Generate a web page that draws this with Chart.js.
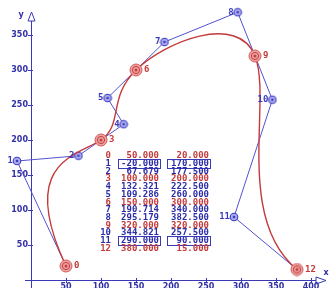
<!DOCTYPE html>
<html>
<head>
<meta charset="utf-8">
<script src="https://cdn.jsdelivr.net/npm/chart.js@4.4.1/dist/chart.umd.min.js"></script>
<style>
    body { margin: 0; background: #ffffff; }
    #box { width: 335px; height: 288px; }
</style>
</head>
<body>
<div id="box"><canvas id="grafico" width="335" height="288"></canvas></div>
<script>
// control polygon, points 0,3,6,9,12 lie on the curve
var puntiX = [50, -20, 67.679, 100, 132.321, 109.286, 150, 190.714, 295.179, 320, 344.821, 290, 380];
var puntiY = [20, 170, 177.5, 200, 222.5, 260, 300, 340, 382.5, 320, 257.5, 90, 15];
var nomiPunti = ['0', '1', '2', '3', '4', '5', '6', '7', '8', '9', '10', '11', '12'];
var tickX = [50, 100, 150, 200, 250, 300, 350, 400];
var tickY = [50, 100, 150, 200, 250, 300, 350];
var righeEvidenziate = [1, 11];

var BLU = '#3a3ab8';
var ROSSO = '#c43a3a';

// --------------- markers ---------------------
var markerRosso = document.createElement('canvas');
markerRosso.width = 14; markerRosso.height = 14;
var c = markerRosso.getContext('2d');
c.beginPath(); c.arc(7, 7, 6, 0, 2 * Math.PI);
c.fillStyle = '#eba3a3'; c.fill();
c.strokeStyle = '#d45a5a'; c.lineWidth = 1; c.stroke();
c.beginPath(); c.arc(7, 7, 3.6, 0, 2 * Math.PI);
c.strokeStyle = '#c83c3c'; c.stroke();
c.beginPath(); c.arc(7, 7, 1.5, 0, 2 * Math.PI);
c.fillStyle = '#c83c3c'; c.fill();

var markerBlu = document.createElement('canvas');
markerBlu.width = 10; markerBlu.height = 10;
c = markerBlu.getContext('2d');
c.beginPath(); c.arc(5, 5, 3.8, 0, 2 * Math.PI);
c.fillStyle = '#aaaaee'; c.fill();
c.strokeStyle = '#3c3cc0'; c.lineWidth = 1.1; c.stroke();
c.beginPath(); c.arc(5, 5, 1.3, 0, 2 * Math.PI);
c.fillStyle = '#3c3cc0'; c.fill();

// --------------- data ---------------------
var poligono = [];
var curva = [];
for (var i = 0; i < puntiX.length; i++) {
    poligono.push({x: puntiX[i], y: puntiY[i]});
    if (i % 3 === 0) {
        curva.push({x: puntiX[i], y: puntiY[i]});
    }
}

// cubic bezier: use polygon points as control points of the line element
var pluginBezier = {
    id: 'bezier',
    beforeDatasetsDraw: function(chart) {
        var sx = chart.scales.x, sy = chart.scales.y;
        var meta = chart.getDatasetMeta(0);
        var pts = meta.data;
        for (var k = 0; k < pts.length; k++) {
            var j = k * 3;
            if (j - 1 >= 0) {
                pts[k].cp1x = sx.getPixelForValue(puntiX[j - 1]);
                pts[k].cp1y = sy.getPixelForValue(puntiY[j - 1]);
            }
            if (j + 1 < puntiX.length) {
                pts[k].cp2x = sx.getPixelForValue(puntiX[j + 1]);
                pts[k].cp2y = sy.getPixelForValue(puntiY[j + 1]);
            }
        }
        meta.dataset._pointsUpdated = true;
        meta.dataset._path = undefined;

        // axis lines, ticks, arrows
        var ctx = chart.ctx;
        var ox = sx.getPixelForValue(0), oy = sy.getPixelForValue(0);
        ctx.save();
        ctx.strokeStyle = BLU;
        ctx.lineWidth = 1;
        ctx.beginPath();
        ctx.moveTo(25, oy + 0.5); ctx.lineTo(316, oy + 0.5);
        ctx.moveTo(ox + 0.5, 288); ctx.lineTo(ox + 0.5, 21);
        tickX.forEach(function(v) {
            var px = Math.round(sx.getPixelForValue(v)) + 0.5;
            ctx.moveTo(px, oy - 2); ctx.lineTo(px, oy + 3);
        });
        tickY.forEach(function(v) {
            var py = Math.round(sy.getPixelForValue(v)) + 0.5;
            ctx.moveTo(ox - 3, py); ctx.lineTo(ox + 2, py);
        });
        ctx.stroke();
        ctx.fillStyle = '#ffffff';
        ctx.beginPath();
        ctx.moveTo(ox + 0.5, 12); ctx.lineTo(ox + 4, 21); ctx.lineTo(ox - 3, 21); ctx.closePath();
        ctx.fill(); ctx.stroke();
        ctx.beginPath();
        ctx.moveTo(326, oy + 0.5); ctx.lineTo(316, oy - 3); ctx.lineTo(316, oy + 4); ctx.closePath();
        ctx.fill(); ctx.stroke();

        // tick labels
        ctx.fillStyle = '#3030a8';
        ctx.font = 'bold 8px "DejaVu Sans"';
        ctx.textAlign = 'center';
        ctx.textBaseline = 'top';
        tickX.forEach(function(v) {
            ctx.fillText(String(v), sx.getPixelForValue(v), oy + 3);
        });
        ctx.textAlign = 'right';
        ctx.textBaseline = 'middle';
        tickY.forEach(function(v) {
            ctx.fillText(String(v), ox - 3, sy.getPixelForValue(v));
        });
        ctx.textAlign = 'center';
        ctx.fillText('y', 21, 15);
        ctx.fillText('x', 326, 273);
        ctx.restore();
    }
};

// point labels and the table of coordinates
var pluginTesti = {
    id: 'testi',
    afterDatasetsDraw: function(chart) {
        var ctx = chart.ctx;
        var pts = chart.getDatasetMeta(1).data;
        ctx.save();
        ctx.font = 'bold 9px "DejaVu Sans Mono"';
        ctx.textBaseline = 'middle';
        for (var i = 0; i < pts.length; i++) {
            if (i % 3 === 0) {
                ctx.fillStyle = ROSSO;
                ctx.textAlign = 'left';
                ctx.fillText(nomiPunti[i], pts[i].x + 8, pts[i].y);
            } else {
                ctx.fillStyle = BLU;
                ctx.textAlign = 'right';
                ctx.fillText(nomiPunti[i], pts[i].x - 4, pts[i].y);
            }
        }

        // table
        ctx.textAlign = 'right';
        for (var r = 0; r < puntiX.length; r++) {
            var yc = 156 + r * 7.7;
            ctx.fillStyle = (r % 3 === 0) ? ROSSO : '#2c2ca8';
            ctx.fillText(nomiPunti[r], 111, yc);
            ctx.fillText(puntiX[r].toFixed(3), 159, yc);
            ctx.fillText(puntiY[r].toFixed(3), 209, yc);
            if (righeEvidenziate.indexOf(r) >= 0) {
                ctx.strokeStyle = BLU;
                ctx.lineWidth = 1;
                var top = Math.round(yc - 4.5) + 0.5;
                ctx.strokeRect(118.5, top, 42, 9);
                ctx.strokeRect(167.5, top, 43, 9);
            }
        }
        ctx.restore();
    }
};

var grafico = new Chart(document.getElementById('grafico'), {
    type: 'line',
    data: {
        datasets: [{
            data: curva,
            borderColor: ROSSO,
            borderWidth: 1.4,
            tension: 0.4,
            fill: false,
            clip: false,
            pointStyle: markerRosso,
            pointRadius: 6
        }, {
            data: poligono,
            borderColor: '#5252d0',
            borderWidth: 1,
            tension: 0,
            fill: false,
            clip: false,
            pointStyle: markerBlu,
            pointRadius: function(ctx) { return ctx.dataIndex % 3 === 0 ? 0 : 4; }
        }]
    },
    options: {
        responsive: false,
        animation: false,
        events: [],
        devicePixelRatio: 1,
        layout: { padding: 0, autoPadding: false },
        plugins: {
            legend: { display: false },
            tooltip: { enabled: false }
        },
        scales: {
            x: {
                type: 'linear',
                min: -31 / 0.7,
                max: (335 - 31) / 0.7,
                position: { y: 0 },
                afterFit: function(s) { s.height = 0; s.paddingLeft = 0; s.paddingRight = 0; s.paddingTop = 0; s.paddingBottom = 0; },
                afterBuildTicks: function(s) { s.ticks = tickX.map(function(v) { return {value: v}; }); },
                grid: { drawOnChartArea: false, drawTicks: false },
                border: { display: false },
                ticks: { display: false }
            },
            y: {
                type: 'linear',
                min: -8 / 0.7,
                max: 280 / 0.7,
                position: { x: 0 },
                afterFit: function(s) { s.width = 0; s.paddingLeft = 0; s.paddingRight = 0; s.paddingTop = 0; s.paddingBottom = 0; },
                afterBuildTicks: function(s) { s.ticks = tickY.map(function(v) { return {value: v}; }); },
                grid: { drawOnChartArea: false, drawTicks: false },
                border: { display: false },
                ticks: { display: false }
            }
        }
    },
    plugins: [pluginBezier, pluginTesti]
});
</script>
</body>
</html>
